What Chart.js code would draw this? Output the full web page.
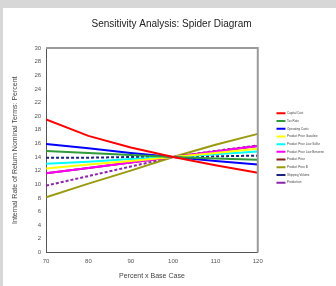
<!DOCTYPE html>
<html>
<head>
<meta charset="utf-8">
<script src="https://cdn.jsdelivr.net/npm/chart.js@4.4.1/dist/chart.umd.min.js"></script>
<style>
  html, body { margin: 0; padding: 0; background: #d7d7d7; }
  #wrap { position: absolute; left: 3px; top: 8px; width: 333px; height: 278px; background: #fff; }
</style>
</head>
<body>
<div id="wrap"><canvas id="spider" width="333" height="278"></canvas></div>
<script>
// Percent of base case
const percents = [70, 80, 90, 100, 110, 120];

// IRR (%) per variable
const capitalCost = [19.5, 17.1, 15.4, 14.0, 12.8, 11.7];
const taxRate = [14.9, 14.6, 14.3, 14.0, 13.8, 13.6];
const operatingCosts = [15.9, 15.3, 14.6, 14.0, 13.4, 12.9];
const priceGasoline = [12.3, 12.9, 13.4, 14.0, 14.6, 15.2];
const priceLowSulfur = [13.0, 13.3, 13.7, 14.0, 14.4, 14.8];
const priceLowBenzene = [11.6, 12.4, 13.2, 14.0, 14.8, 15.6];
const priceFuelOil = [11.6, 12.4, 13.2, 14.0, 14.8, 15.6];
const priceFuelOilB = [8.1, 10.1, 12.0, 14.0, 15.8, 17.4];
const shippingVolume = [13.9, 13.9, 14.0, 14.0, 14.1, 14.2];
const production = [9.8, 11.2, 12.6, 14.0, 14.9, 15.7];

const yTicks = [0, 2, 4, 6, 8, 10, 12, 14, 16, 18, 20, 22, 24, 26, 28, 30];

// room between plot and legend
const legendExtra = 16;
const legendShift = 14;

function series(label, values, color, dash) {
    return {
        label: label,
        data: percents.map((p, i) => ({ x: p, y: values[i] })),
        borderColor: color,
        backgroundColor: color,
        borderWidth: 2,
        borderDash: dash || [],
        pointRadius: 0,
        pointStyle: 'line',
        tension: 0
    };
}

const ctx = document.getElementById('spider').getContext('2d');
new Chart(ctx, {
    type: 'line',
    data: {
        datasets: [
            series('Capital Cost', capitalCost, '#ff0000'),
            series('Tax Rate', taxRate, '#2e9a3a'),
            series('Operating Costs', operatingCosts, '#0000ff'),
            series('Product Price Gasoline', priceGasoline, '#ffff00'),
            series('Product Price Low Sulfur', priceLowSulfur, '#00ffff'),
            series('Product Price Low Benzene', priceLowBenzene, '#ff00ff'),
            series('Product Price', priceFuelOil, '#8b1a1a'),
            series('Product Price B', priceFuelOilB, '#9a9a10'),
            series('Shipping Volume', shippingVolume, '#1a237e', [3, 2]),
            series('Production', production, '#8e24aa', [3, 2])
        ]
    },
    options: {
        responsive: false,
        animation: false,
        layout: { padding: { top: 4, right: 0, left: 4, bottom: 2 } },
        plugins: {
            title: {
                display: true,
                text: 'Sensitivity Analysis: Spider Diagram',
                color: '#222',
                font: { family: 'Liberation Sans', size: 10, weight: 'normal' },
                padding: { top: 6, bottom: 18 }
            },
            legend: {
                position: 'right',
                labels: {
                    color: '#444',
                    font: { family: 'Liberation Sans', size: 3 },
                    usePointStyle: true,
                    pointStyleWidth: 9,
                    padding: 4.7
                }
            },
            tooltip: { enabled: false }
        },
        scales: {
            x: {
                type: 'linear',
                min: 70,
                max: 120,
                ticks: {
                    stepSize: 10,
                    color: '#555',
                    font: { family: 'Liberation Sans', size: 6 },
                    padding: 2
                },
                grid: { display: false, drawTicks: true, tickLength: 3, tickColor: '#555' },
                border: { color: '#555', width: 1 },
                title: {
                    display: true,
                    text: 'Percent x Base Case',
                    color: '#444',
                    font: { family: 'Liberation Sans', size: 7 },
                    padding: { top: 5 }
                }
            },
            y: {
                min: 0,
                max: 30,
                afterBuildTicks: function (axis) {
                    axis.ticks = yTicks.map(v => ({ value: v }));
                },
                ticks: {
                    color: '#555',
                    font: { family: 'Liberation Sans', size: 6 },
                    padding: 2
                },
                grid: { display: false, drawTicks: true, tickLength: 3, tickColor: '#555' },
                border: { color: '#555', width: 1 },
                title: {
                    display: true,
                    text: 'Internal Rate of Return Nominal Terms: Percent',
                    color: '#444',
                    font: { family: 'Liberation Sans', size: 7 },
                    padding: { bottom: 13 }
                }
            }
        }
    },
    plugins: [{
        id: 'legendGap',
        beforeLayout(chart) {
            const lg = chart.legend;
            if (lg && !lg._gapWrapped) {
                const fit = lg.fit.bind(lg);
                lg.fit = function () {
                    fit();
                    this.width += legendExtra;
                };
                lg._gapWrapped = true;
            }
        },
        afterLayout(chart) {
            if (chart.legend) chart.legend.left += legendShift;
        }
    }, {
        id: 'plotFrame',
        afterDraw(chart) {
            const a = chart.chartArea;
            const c = chart.ctx;
            c.save();
            c.strokeStyle = '#9a9a9a';
            c.lineWidth = 2;
            c.beginPath();
            c.moveTo(a.left, a.top);
            c.lineTo(a.right, a.top);
            c.lineTo(a.right, a.bottom);
            c.stroke();
            c.restore();
        }
    }]
});
</script>
</body>
</html>
